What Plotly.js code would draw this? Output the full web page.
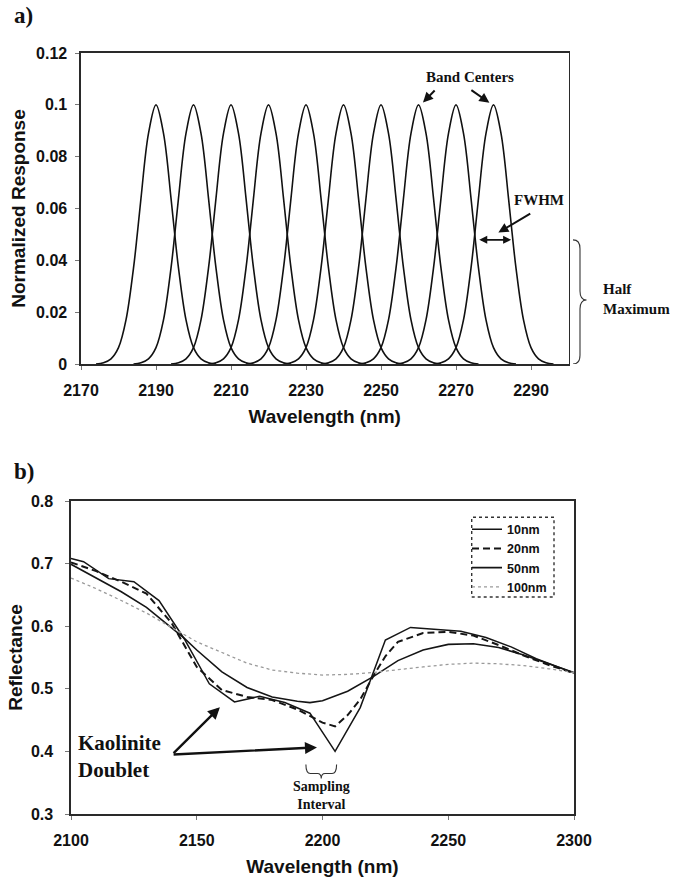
<!DOCTYPE html>
<html>
<head>
<meta charset="utf-8">
<script src="https://cdn.plot.ly/plotly-3.0.1.min.js"></script>
<style>
  html, body { margin: 0; padding: 0; background: #ffffff; }
  #chart { width: 673px; height: 882px; }
</style>
</head>
<body>
<div id="chart"></div>
<script>
// ---------- Panel a) data ----------
const bandCenters = [2190, 2200, 2210, 2220, 2230, 2240, 2250, 2260, 2270, 2280];
// response profile read around a band centre (offset in nm)
const profileOffset = [-16, -14, -12, -10, -8, -6, -5, -4, -2, 0, 2, 4, 5, 6, 8, 10, 12, 14, 16];
const profileResponse = [0, 0.0005, 0.002, 0.0063, 0.017, 0.037, 0.05, 0.064, 0.089, 0.1,
                         0.089, 0.064, 0.05, 0.037, 0.017, 0.0063, 0.002, 0.0005, 0];
const xTicksA = [2170, 2190, 2210, 2230, 2250, 2270, 2290];

// ---------- Panel b) data ----------
const seriesNames = ['10nm', '20nm', '50nm', '100nm'];
const wl10 = [2100, 2105, 2115, 2125, 2135, 2145, 2155, 2165, 2175, 2185, 2195, 2205, 2215, 2225, 2235, 2245, 2255, 2265, 2275, 2285, 2295, 2300];
const refl10 = [0.708, 0.703, 0.676, 0.671, 0.641, 0.580, 0.508, 0.479, 0.488, 0.478, 0.461, 0.400, 0.470, 0.578, 0.598, 0.595, 0.592, 0.582, 0.567, 0.548, 0.532, 0.525];
const wl20 = [2100, 2110, 2120, 2130, 2140, 2150, 2160, 2170, 2180, 2190, 2200, 2205, 2210, 2215, 2220, 2225, 2230, 2240, 2250, 2260, 2270, 2280, 2290, 2300];
const refl20 = [0.702, 0.688, 0.671, 0.652, 0.605, 0.535, 0.498, 0.487, 0.482, 0.467, 0.446, 0.440, 0.458, 0.483, 0.519, 0.552, 0.575, 0.589, 0.591, 0.585, 0.570, 0.553, 0.538, 0.525];
const wl50 = [2100, 2110, 2120, 2130, 2140, 2145, 2150, 2160, 2170, 2180, 2190, 2195, 2200, 2205, 2210, 2220, 2230, 2240, 2250, 2260, 2270, 2280, 2290, 2300];
const refl50 = [0.699, 0.677, 0.655, 0.630, 0.598, 0.581, 0.562, 0.527, 0.502, 0.487, 0.480, 0.478, 0.481, 0.488, 0.496, 0.519, 0.545, 0.562, 0.571, 0.572, 0.566, 0.554, 0.540, 0.526];
const wl100 = [2100, 2110, 2120, 2130, 2140, 2150, 2160, 2170, 2180, 2190, 2200, 2210, 2220, 2230, 2240, 2250, 2260, 2270, 2280, 2290, 2300];
const refl100 = [0.677, 0.660, 0.641, 0.621, 0.598, 0.575, 0.558, 0.541, 0.530, 0.525, 0.522, 0.523, 0.526, 0.531, 0.535, 0.539, 0.541, 0.540, 0.537, 0.532, 0.526];

const SANS = '"Liberation Sans", Arial, sans-serif';
const SERIF = '"Liberation Serif", "Times New Roman", serif';
const INK = '#111111';

const traces = [];
bandCenters.forEach(function (c) {
  traces.push({
    x: profileOffset.map(function (o) { return c + o; }),
    y: profileResponse,
    xaxis: 'x', yaxis: 'y',
    mode: 'lines',
    line: { color: INK, width: 1.6, shape: 'spline', smoothing: 1 },
    showlegend: false, hoverinfo: 'skip'
  });
});

const bX = [wl10, wl20, wl50, wl100];
const bY = [refl10, refl20, refl50, refl100];
const bLines = [
  { color: '#151515', width: 1.5, dash: 'solid' },
  { color: '#151515', width: 2.0, dash: '7px,4px' },
  { color: '#151515', width: 1.6, dash: 'solid' },
  { color: '#9a9a9a', width: 1.3, dash: 'dot' }
];
seriesNames.forEach(function (n, i) {
  traces.push({
    x: bX[i], y: bY[i], name: n,
    xaxis: 'x2', yaxis: 'y2',
    mode: 'lines', line: bLines[i]
  });
});

const tickFont = { family: SANS, size: 16, color: INK, weight: 'bold' };
const titleFont = { family: SANS, size: 19, color: INK, weight: 'bold' };
const axLine = { showline: true, linecolor: '#2a2a2a', linewidth: 1.6, mirror: true,
  showgrid: false, zeroline: false, ticks: 'outside', ticklen: 4, tickcolor: '#777', tickwidth: 1 };

function arrow(xr, yr, hx, hy, tx, ty, w) {
  return { xref: xr, yref: yr, axref: xr, ayref: yr, x: hx, y: hy, ax: tx, ay: ty,
    text: '', showarrow: true, arrowhead: 2, arrowsize: 1, arrowwidth: w || 2,
    arrowcolor: INK, standoff: 0, startstandoff: 0 };
}

const layout = {
  width: 673, height: 882,
  margin: { l: 0, r: 0, t: 0, b: 0 },
  paper_bgcolor: '#ffffff', plot_bgcolor: '#ffffff',
  showlegend: true,
  xaxis: Object.assign({}, axLine, {
    domain: [81 / 673, 568.5 / 673], anchor: 'y',
    range: [2170, 2300], tickmode: 'array', tickvals: xTicksA,
    tickfont: tickFont, ticklabelstandoff: 7,
    title: { text: 'Wavelength (nm)', font: titleFont, standoff: 12 }
  }),
  yaxis: Object.assign({}, axLine, {
    domain: [(882 - 364) / 882, (882 - 53) / 882], anchor: 'x',
    range: [0, 0.12], dtick: 0.02, tick0: 0,
    tickfont: tickFont, ticklabelstandoff: 5,
    title: { text: 'Normalized Response', font: titleFont, standoff: 5 }
  }),
  xaxis2: Object.assign({}, axLine, {
    domain: [71 / 673, 574 / 673], anchor: 'y2',
    range: [2100, 2300], dtick: 50, tick0: 2100,
    tickfont: tickFont, ticklabelstandoff: 7,
    title: { text: 'Wavelength (nm)', font: titleFont, standoff: 12 }
  }),
  yaxis2: Object.assign({}, axLine, {
    domain: [(882 - 814) / 882, (882 - 501) / 882], anchor: 'x2',
    range: [0.3, 0.8], dtick: 0.1, tick0: 0.3, tickformat: '.1f',
    tickfont: tickFont, ticklabelstandoff: 9,
    title: { text: 'Reflectance', font: titleFont, standoff: 3 }
  }),
  legend: {
    x: 467 / 673, xanchor: 'left', y: 1 - 514.5 / 882, yanchor: 'top',
    bgcolor: 'rgba(0,0,0,0)', borderwidth: 0, tracegroupgap: 0,
    font: { family: SANS, size: 12.5, color: INK, weight: 'bold' }
  },
  shapes: [
    // dashed legend frame
    { type: 'rect', xref: 'paper', yref: 'paper',
      x0: 471.7 / 673, x1: 554 / 673, y0: 1 - 597 / 882, y1: 1 - 517.3 / 882,
      line: { color: '#333', width: 1.4, dash: 'dot' } },
    // "Half Maximum" brace (outside panel a, right side)
    { type: 'path', xref: 'paper', yref: 'y', layer: 'above',
      path: 'M 0.8514,0.0479 Q 0.8618,0.0479 0.8618,0.0445 L 0.8618,0.0282 Q 0.8618,0.0247 0.8715,0.0247 Q 0.8618,0.0247 0.8618,0.0212 L 0.8618,0.0034 Q 0.8618,0.0 0.8514,0.0',
      line: { color: '#333', width: 1.1 } },
    // "Sampling Interval" brace (panel b)
    { type: 'path', xref: 'x2', yref: 'y2', layer: 'above',
      path: 'M 2193.4,0.379 Q 2193.4,0.3647 2195.2,0.3647 L 2198,0.3647 Q 2199.5,0.3647 2199.5,0.3566 Q 2199.5,0.3647 2201,0.3647 L 2203.8,0.3647 Q 2205.6,0.3647 2205.6,0.379',
      line: { color: '#333', width: 1.1 } }
  ],
  annotations: [
    { xref: 'paper', yref: 'paper', x: 12 / 673, y: 1 - 16 / 882, xanchor: 'left', yanchor: 'middle',
      text: 'a)', showarrow: false, font: { family: SERIF, size: 23, color: INK, weight: 'bold' } },
    { xref: 'paper', yref: 'paper', x: 12 / 673, y: 1 - 471 / 882, xanchor: 'left', yanchor: 'middle',
      text: 'b)', showarrow: false, font: { family: SERIF, size: 23, color: INK, weight: 'bold' } },
    // panel a labels
    { xref: 'x', yref: 'y', x: 2273.7, y: 0.1106, text: 'Band Centers', showarrow: false,
      font: { family: SERIF, size: 15, color: INK, weight: 'bold' } },
    arrow('x', 'y', 2261.2, 0.1009, 2264.7, 0.1061, 2),
    arrow('x', 'y', 2278.9, 0.1008, 2273.7, 0.1061, 2),
    { xref: 'x', yref: 'y', x: 2292.2, y: 0.0633, text: 'FWHM', showarrow: false,
      font: { family: SERIF, size: 15, color: INK, weight: 'bold' } },
    arrow('x', 'y', 2281.3, 0.0507, 2290.2, 0.0584, 2),
    Object.assign(arrow('x', 'y', 2284.7, 0.0479, 2275.8, 0.0479, 1.6),
      { arrowside: 'end+start', startarrowhead: 2 }),
    { xref: 'paper', yref: 'paper', x: 601 / 673, y: 1 - 298.5 / 882, xanchor: 'left', yanchor: 'middle',
      align: 'left', text: 'Half<br>Maximum', showarrow: false,
      font: { family: SERIF, size: 15, color: INK, weight: 'bold' } },
    // panel b labels
    { xref: 'paper', yref: 'paper', x: 76 / 673, y: 1 - 756 / 882, xanchor: 'left', yanchor: 'middle',
      align: 'left', text: 'Kaolinite<br>Doublet', showarrow: false,
      font: { family: SERIF, size: 21, color: INK, weight: 'bold' } },
    arrow('x2', 'y2', 2159.2, 0.4707, 2140.2, 0.395, 2.4),
    arrow('x2', 'y2', 2197.8, 0.4064, 2140.2, 0.395, 2.4),
    { xref: 'paper', yref: 'paper', x: 321.5 / 673, y: 1 - 795.5 / 882, xanchor: 'center', yanchor: 'middle',
      align: 'center', text: 'Sampling<br>Interval', showarrow: false,
      font: { family: SERIF, size: 14, color: INK, weight: 'bold' } }
  ]
};

Plotly.newPlot('chart', traces, layout, { staticPlot: true, displayModeBar: false });
</script>
</body>
</html>
